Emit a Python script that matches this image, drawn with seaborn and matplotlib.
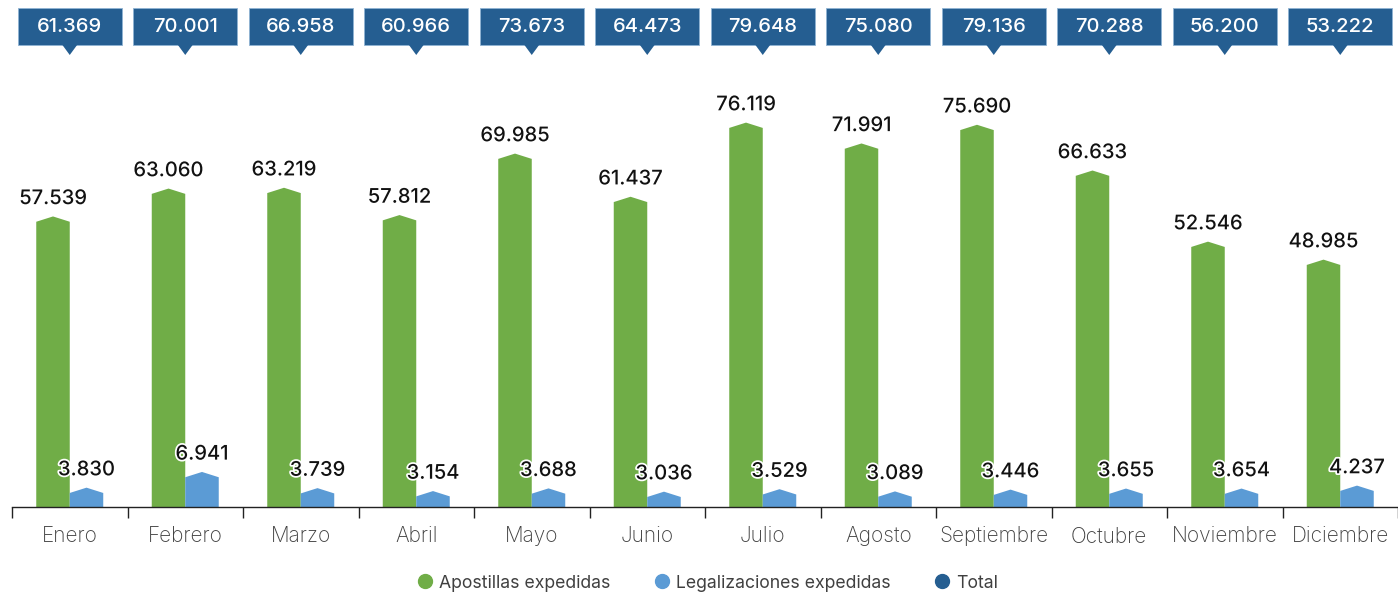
import numpy as np
import pandas as pd
import matplotlib
matplotlib.use("Agg")
import matplotlib.pyplot as plt
import matplotlib.patheffects as pe
from matplotlib.patches import Polygon, Rectangle
from matplotlib.lines import Line2D
from matplotlib.transforms import blended_transform_factory
import seaborn as sns

# data
meses = ["Enero", "Febrero", "Marzo", "Abril", "Mayo", "Junio", "Julio",
         "Agosto", "Septiembre", "Octubre", "Noviembre", "Diciembre"]
apostillas = [57539, 63060, 63219, 57812, 69985, 61437, 76119, 71991, 75690, 66633, 52546, 48985]
legalizaciones = [3830, 6941, 3739, 3154, 3688, 3036, 3529, 3089, 3446, 3655, 3654, 4237]
total = [61369, 70001, 66958, 60966, 73673, 64473, 79648, 75080, 79136, 70288, 56200, 53222]

series = ["Apostillas expedidas", "Legalizaciones expedidas"]
colors = ["#70AD47", "#5B9BD5"]
dark = "#255E91"

def fmt(v):
    return f"{v:,}".replace(",", ".")

df = pd.DataFrame({
    "mes": meses * 2,
    "serie": [series[0]] * 12 + [series[1]] * 12,
    "valor": apostillas + legalizaciones,
})

sns.set_theme(style="white")
plt.rcParams["font.family"] = ["Inter", "DejaVu Sans"]

fig = plt.figure(figsize=(13.98, 5.93), dpi=100)
ax = fig.add_axes([12 / 1398, 86 / 593, 1 - 12 / 1398, 507 / 593])

sns.barplot(data=df, x="mes", y="valor", hue="serie", order=meses, hue_order=series,
            palette=colors, width=0.58, gap=0, saturation=1, legend=False, ax=ax)

ax.set_xlim(-0.5, 11.5)
ax.set_ylim(0, 100400)
peak = 1050  # height of the pointed cap in data units

# replace each bar by a pentagon with a pointed top
for patch in list(ax.patches):
    h = patch.get_height()
    if h <= 0:
        continue
    x0 = patch.get_x()
    w = patch.get_width()
    c = patch.get_facecolor()
    patch.set_visible(False)
    ax.add_patch(Polygon([(x0, 0), (x0, h - peak), (x0 + w / 2, h), (x0 + w, h - peak), (x0 + w, 0)],
                         closed=True, facecolor=c, edgecolor="none"))
    ax.annotate(fmt(int(round(h))), (x0 + w / 2, h), xytext=(0, 6), textcoords="offset points",
                ha="center", va="bottom", fontsize=14.5, fontweight="medium", color="#111111",
                path_effects=[pe.withStroke(linewidth=2.5, foreground="white")])

# total boxes on top
trans = blended_transform_factory(ax.transData, ax.transAxes)
box_w = 0.9
box_bottom = (507 - 45) / 507
box_h = 37 / 507
tip = (507 - 55) / 507
for i, t in enumerate(total):
    ax.add_patch(Rectangle((i - box_w / 2, box_bottom), box_w, box_h, transform=trans,
                           facecolor=dark, edgecolor="#8FB3D3", linewidth=0.6, clip_on=False))
    ax.add_patch(Polygon([(i - 0.07, box_bottom + 0.002), (i, tip), (i + 0.07, box_bottom + 0.002)],
                         closed=True, transform=trans, facecolor=dark, edgecolor="none", clip_on=False))
    ax.text(i, box_bottom + box_h / 2, fmt(t), transform=trans, ha="center", va="center",
            fontsize=14.5, fontweight="medium", color="white")

# axes styling
for s in ["top", "right", "left"]:
    ax.spines[s].set_visible(False)
ax.spines["bottom"].set_color("#222222")
ax.spines["bottom"].set_linewidth(1)
ax.set_yticks([])
ax.set_ylabel("")
ax.set_xlabel("")
ax.set_xticks(np.arange(-0.5, 12, 1))
ax.set_xticklabels([])
ax.tick_params(axis="x", which="major", length=8, width=1, color="#222222", direction="out", bottom=True)
ax.set_xticks(np.arange(12), minor=True)
ax.set_xticklabels(meses, minor=True, fontsize=15, color="#404040", fontweight="light")
ax.tick_params(axis="x", which="minor", length=0, pad=14)

handles = [Line2D([0], [0], marker="o", linestyle="none", markersize=10,
                  markerfacecolor=c, markeredgecolor=c) for c in colors + [dark]]
fig.legend(handles, series + ["Total"], loc="center", bbox_to_anchor=(0.5 + 9 / 1398, 10 / 593), ncol=3,
           frameon=False, fontsize=12.7, labelcolor="#404040", handlelength=0.8,
           handletextpad=0.4, columnspacing=2.5)

fig.savefig("out.png", dpi=100)
